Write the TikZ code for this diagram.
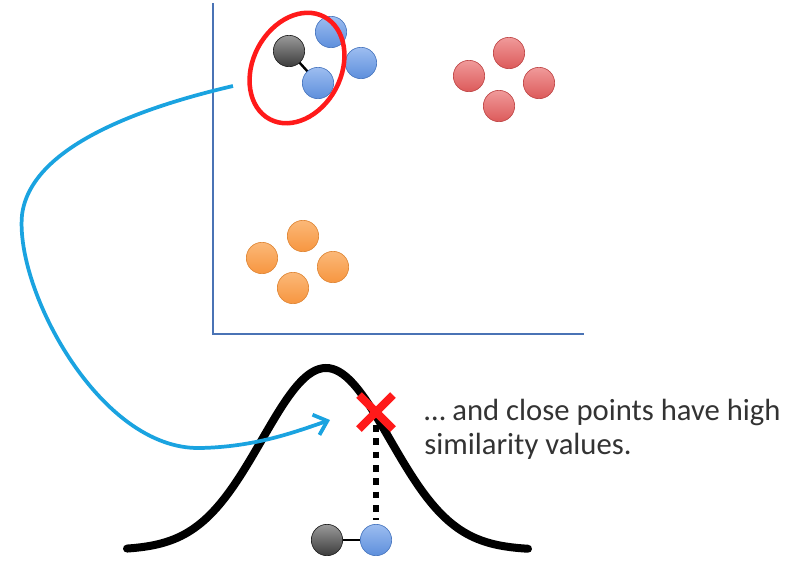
\documentclass[tikz,border=0pt]{standalone}
\usepackage{fontspec}
\setmainfont{Carlito}
\usetikzlibrary{arrows.meta}
\definecolor{axisblue}{HTML}{4A73B5}
\definecolor{curveblue}{HTML}{1AA3E0}
\definecolor{xred}{HTML}{FF1A1A}
\definecolor{txtgray}{HTML}{333333}
\definecolor{bdark}{HTML}{4A78C0}
\definecolor{blight}{HTML}{9DBDF0}
\definecolor{bmid}{HTML}{5D8FDC}
\definecolor{gdark}{HTML}{222222}
\definecolor{glight}{HTML}{9A9A9A}
\definecolor{gmid}{HTML}{3C3C3C}
\definecolor{rdark}{HTML}{C04848}
\definecolor{rlight}{HTML}{F09A9A}
\definecolor{rmid}{HTML}{DC5A5A}
\definecolor{odark}{HTML}{E08838}
\definecolor{olight}{HTML}{FBB878}
\definecolor{omid}{HTML}{F79640}
\tikzset{
  ballbase/.style={circle, minimum size=23.5pt, inner sep=0pt, line width=0.5pt},
  bb/.style={ballbase, draw=bdark, top color=blight, bottom color=bmid},
  gb/.style={ballbase, draw=gdark, top color=glight, bottom color=gmid},
  rb/.style={ballbase, draw=rdark, top color=rlight, bottom color=rmid},
  ob/.style={ballbase, draw=odark, top color=olight, bottom color=omid},
  axisline/.style={draw=axisblue, line width=2.2pt},
  txt/.style={font=\fontsize{23}{25.5}\selectfont, text=txtgray, align=left, anchor=base west, inner sep=0pt}
}
\begin{document}
\begin{tikzpicture}[x=0.75pt,y=-0.75pt]
\useasboundingbox (0,0) rectangle (804,579);
% axes
\coordinate (ytop) at (213,3);
\coordinate (origin) at (213,334);
\coordinate (xend) at (584,334);
\draw[axisline] (ytop) -- (origin) -- (xend);
% red cluster
\node[rb] (r1) at (469,76) {};
\node[rb] (r2) at (509,53) {};
\node[rb] (r3) at (539,83) {};
\node[rb] (r4) at (499,106) {};
% orange cluster
\node[ob] (o1) at (262,258) {};
\node[ob] (o2) at (303,236) {};
\node[ob] (o3) at (333,267) {};
\node[ob] (o4) at (293,288) {};
% blue cluster
\node[bb] (b2) at (331,32) {};
\node[bb] (b3) at (361,63) {};
\coordinate (g1c) at (289,51);
\coordinate (b1c) at (318,83);
\draw[black, line width=1.8pt] (g1c) -- (b1c);
\node[gb] (g1) at (g1c) {};
\node[bb] (b1) at (b1c) {};
% red ellipse
\draw[xred, line width=3.4pt, rotate around={62:(297,68)}] (297,68) ellipse [x radius=58, y radius=44];
% gaussian
\draw[black, line width=6pt, line cap=round, domain=127:528, samples=120, smooth]
  plot (\x, {550 - 182*exp(-0.5*((\x-326)/64)^2)});
% blue curve
\coordinate (cstart) at (233,86);
\coordinate (ctip) at (330,420);
\draw[curveblue, line width=2.8pt, -{Straight Barb[length=9pt, width=16pt, line width=2.8pt]}]
  (cstart) .. controls (130,110) and (30,150) .. (22,215)
  .. controls (15,290) and (100,450) .. (200,448)
  .. controls (255,447) and (295,432) .. (ctip);
% dotted line
\coordinate (dtop) at (376,425);
\coordinate (dbot) at (376,520);
\draw[black, line width=5pt, dash pattern=on 5pt off 5pt] (dtop) -- (dbot);
% red X
\draw[xred, line width=6pt] (359,395) -- (393,429);
\draw[xred, line width=6pt] (393,395) -- (359,429);
% bottom pair
\coordinate (g2c) at (327,540);
\coordinate (b4c) at (376,540);
\draw[black, line width=1.8pt] (g2c) -- (b4c);
\node[gb] (g2) at (g2c) {};
\node[bb] (b4) at (b4c) {};
% text
\node[txt] (label1) at (424,420) {\dots{} and close points have high};
\node[txt] (label2) at (424,454) {similarity values.};
\end{tikzpicture}
\end{document}
